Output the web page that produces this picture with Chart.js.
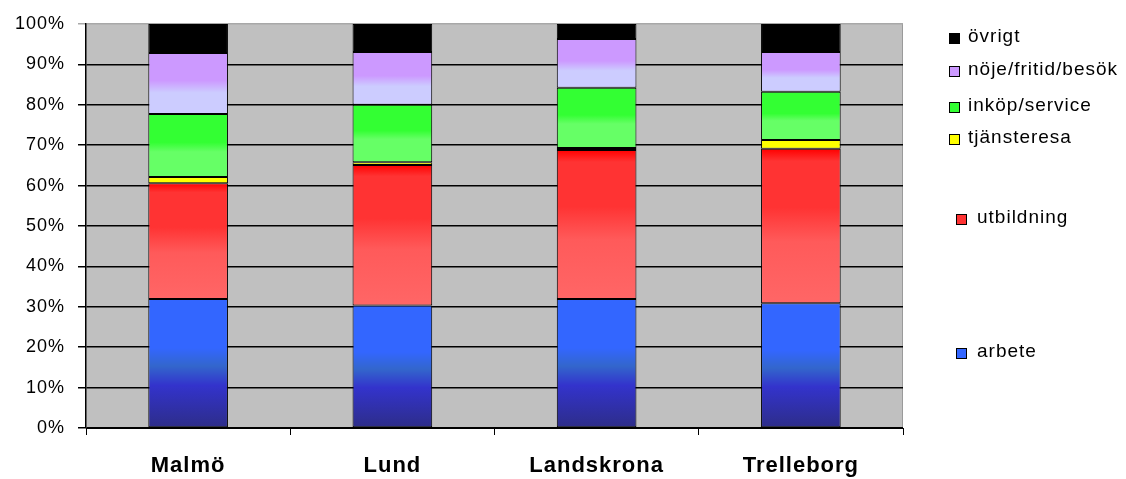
<!DOCTYPE html>
<html>
<head>
<meta charset="utf-8">
<script src="https://cdn.jsdelivr.net/npm/chart.js@4/dist/chart.umd.min.js"></script>
<style>
  html, body { margin:0; padding:0; background:#fff; }
  canvas { display:block; }
</style>
</head>
<body>
<canvas id="chart" width="1126" height="479"></canvas>
<script>
const CATEGORIES = ["Malmö", "Lund", "Landskrona", "Trelleborg"];

// percent of trips per purpose, bottom to top
const ARBETE      = [31.9, 30.3, 31.9, 30.9];
const UTBILDNING  = [28.7, 34.8, 36.9, 38.2];
const TJANSTERESA = [1.5, 0.7, 0.5, 2.2];
const INKOP       = [15.6, 14.2, 14.9, 11.9];
const NOJE        = [15.1, 13.1, 12.1, 9.9];
const OVRIGT      = [7.2, 6.9, 3.7, 6.9];

const LABELS = ["arbete", "utbildning", "tjänsteresa", "inköp/service", "nöje/fritid/besök", "övrigt"];
const SERIES = [ARBETE, UTBILDNING, TJANSTERESA, INKOP, NOJE, OVRIGT];

const Y_TICKS = [0, 10, 20, 30, 40, 50, 60, 70, 80, 90, 100];

// gradient stops, bottom (0) to top (1)
const STOPS = [
  [[0, "#2d2d88"], [0.33, "#3333cc"], [0.48, "#3366cc"], [0.62, "#3366ff"], [1, "#3366ff"]],
  [[0, "#ff6666"], [0.4, "#ff5a5a"], [0.62, "#ff3333"], [0.92, "#ff3333"], [1, "#ff0000"]],
  [[0, "#ffff00"], [1, "#ffff00"]],
  [[0, "#66ff66"], [0.4, "#66ff66"], [0.55, "#33ff33"], [1, "#33ff33"]],
  [[0, "#ccccff"], [0.35, "#ccccff"], [0.55, "#cc99ff"], [1, "#cc99ff"]],
  [[0, "#000000"], [1, "#000000"]]
];
const SWATCH = ["#3366ff", "#ff3333", "#ffff00", "#33ff33", "#cc99ff", "#000000"];

// legend placement (Excel spread the entries next to their segments)
const LEGEND_POS = [
  { box: 956, text: 977, y: 352 },
  { box: 956, text: 977, y: 218 },
  { box: 949, text: 968, y: 138 },
  { box: 949, text: 968, y: 106 },
  { box: 949, text: 968, y: 70 },
  { box: 949, text: 968, y: 37 }
];

const FONT = "'Liberation Sans', Arial, sans-serif";

function segGradient(di){
  const stops = STOPS[di];
  return (c) => {
    const chart = c.chart;
    if (!chart.chartArea || c.type !== "data") return SWATCH[di];
    const y = chart.scales.y;
    const i = c.dataIndex;
    let start = 0;
    for (let k = 0; k < di; k++) start += SERIES[k][i];
    const end = start + SERIES[di][i];
    const y0 = y.getPixelForValue(start), y1 = y.getPixelForValue(end);
    if (!isFinite(y0) || !isFinite(y1) || y0 === y1) return SWATCH[di];
    const g = chart.ctx.createLinearGradient(0, y0, 0, y1);
    stops.forEach(([o, col]) => g.addColorStop(o, col));
    return g;
  };
}

const plotBackground = {
  id: "plotBackground",
  beforeLayout(chart){ chart.ctx.letterSpacing = "1px"; },
  beforeDraw(chart){
    const { ctx, chartArea: a } = chart;
    ctx.letterSpacing = "1px";
    ctx.save();
    ctx.fillStyle = "#c0c0c0";
    ctx.fillRect(a.left, a.top, a.right - a.left, a.bottom - a.top);
    ctx.strokeStyle = "#9a9a9a";
    ctx.lineWidth = 1;
    ctx.beginPath();
    ctx.moveTo(a.right - 0.5, a.top);
    ctx.lineTo(a.right - 0.5, a.bottom);
    ctx.stroke();
    ctx.restore();
  }
};

const sideLegend = {
  id: "sideLegend",
  afterDraw(chart){
    const ctx = chart.ctx;
    ctx.save();
    ctx.font = "19px " + FONT;
    ctx.textBaseline = "middle";
    ctx.fillStyle = "#000";
    chart.data.datasets.forEach((ds, i) => {
      const p = LEGEND_POS[i];
      ctx.fillStyle = SWATCH[i];
      ctx.fillRect(p.box, p.y - 4, 11, 11);
      ctx.strokeStyle = "#000";
      ctx.lineWidth = 1;
      ctx.strokeRect(p.box + 0.5, p.y - 3.5, 10, 10);
      ctx.fillStyle = "#000";
      ctx.fillText(ds.label, p.text, p.y);
    });
    ctx.restore();
  }
};

new Chart(document.getElementById("chart"), {
  type: "bar",
  data: {
    labels: CATEGORIES,
    datasets: SERIES.map((vals, i) => ({
      label: LABELS[i],
      data: vals,
      backgroundColor: segGradient(i),
      borderColor: "#000",
      borderWidth: 1,
      borderSkipped: false,
      barPercentage: 0.39,
      categoryPercentage: 1
    }))
  },
  options: {
    responsive: false,
    animation: false,
    layout: { padding: { top: 24, right: 223, bottom: 0, left: 0 } },
    plugins: { legend: { display: false }, tooltip: { enabled: false } },
    scales: {
      x: {
        stacked: true,
        afterFit(scale){ scale.height = 51; },
        grid: { drawOnChartArea: false, drawTicks: true, tickLength: 7, color: "#000", offset: true },
        border: { color: "#000", width: 1 },
        ticks: { color: "#000", padding: 18, font: { family: FONT, size: 22, weight: "bold" } }
      },
      y: {
        stacked: true,
        min: 0,
        max: 100,
        afterFit(scale){ scale.width = 86; },
        afterBuildTicks(scale){ scale.ticks = Y_TICKS.map(v => ({ value: v })); },
        grid: {
          color: (c) => c.tick && c.tick.value === 100 ? "#a8a8a8" : "#000",
          lineWidth: 1.5,
          tickLength: 8
        },
        border: { color: "#000", width: 1.5 },
        ticks: {
          color: "#000",
          padding: 13,
          font: { family: FONT, size: 18 },
          callback: (v) => v + "%"
        }
      }
    }
  },
  plugins: [plotBackground, sideLegend]
});
</script>
</body>
</html>
